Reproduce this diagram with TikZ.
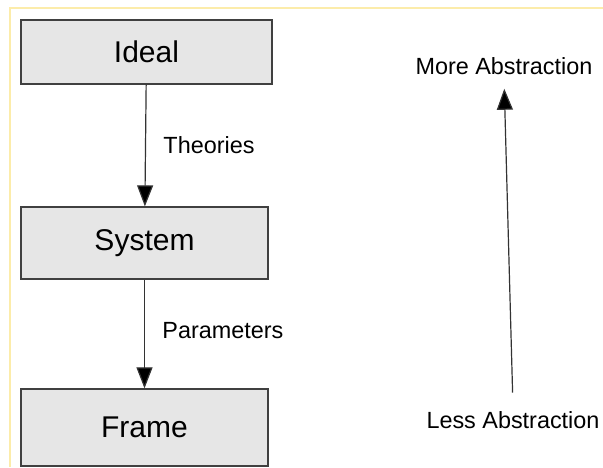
\documentclass[tikz,border=0pt]{standalone}
\usepackage{fontspec}
\setmainfont{Liberation Sans}
\usetikzlibrary{arrows.meta,positioning}
\definecolor{boxfill}{RGB}{230,230,230}
\definecolor{boxline}{RGB}{64,64,64}
\definecolor{frameyellow}{RGB}{252,236,170}
\tikzset{
  level/.style={rectangle, draw=boxline, fill=boxfill, line width=1.3pt, inner sep=0pt, font=\fontsize{30}{36}\selectfont},
  note/.style={text=black, font=\fontsize{23.4}{28}\selectfont},
  arrow/.style={-{Triangle[length=21pt,width=16pt,fill=black]}, line width=1.2pt, draw=black!80}
}
\begin{document}
\begin{tikzpicture}[x=1pt,y=-1pt]
  \useasboundingbox (0,0) rectangle (603,467);
  \draw[frameyellow, line width=1.2pt] (10,467) -- (10,8) -- (603,8);
  \node[level, minimum width=251pt, minimum height=64pt] (ideal) at (146.5,52) {Ideal};
  \node[level, minimum width=247pt, minimum height=72pt] (system) at (144.5,243) {System};
  \node[level, minimum width=247pt, minimum height=77pt] (frame) at (144.5,427.5) {Frame};
  \draw[arrow] (ideal)--(system) node[note, midway, right=14pt] {Theories};
  \draw[arrow] (system)--(frame) node[note, midway, right=14pt, yshift=3pt] {Parameters};
  \node[note, anchor=base] (more) at (504,74) {More Abstraction};
  \node[note, anchor=base] (less) at (513,428) {Less Abstraction};
  \draw[arrow, shorten <=15pt, shorten >=11pt] (less.north)--(more.south);
\end{tikzpicture}
\end{document}
